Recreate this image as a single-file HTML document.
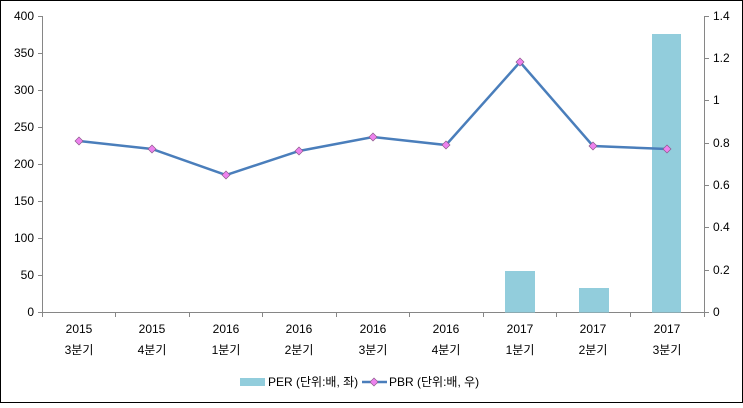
<!DOCTYPE html>
<html><head><meta charset="utf-8"><style>
html,body{margin:0;padding:0;background:#fff}
svg text{font-family:"Liberation Sans","Noto Sans CJK KR",sans-serif;font-size:12px;fill:#000}
</style></head><body>
<svg width="743" height="403" xmlns="http://www.w3.org/2000/svg">
<rect x="0.5" y="0.5" width="742" height="402" fill="#fff" stroke="#000"/>
<g stroke="#868686" stroke-width="1" fill="none">
<path d="M42.5 16V312.5H704.5M704.5 16V312.5"/>
<path d="M38 16.5h5M38 53.5h5M38 90.5h5M38 127.5h5M38 164.5h5M38 201.5h5M38 238.5h5M38 275.5h5M38 312.5h5"/>
<path d="M704 16.5h5M704 58.5h5M704 100.5h5M704 143.5h5M704 185.5h5M704 227.5h5M704 270.5h5M704 312.5h5"/>
<path d="M42.5 312v5M115.5 312v5M189.5 312v5M262.5 312v5M336.5 312v5M409.5 312v5M483.5 312v5M556.5 312v5M630.5 312v5M704.5 312v5"/>
</g>
<g text-anchor="end">
<text x="34" y="20">400</text><text x="34" y="57">350</text><text x="34" y="94">300</text><text x="34" y="131">250</text><text x="34" y="168">200</text><text x="34" y="205">150</text><text x="34" y="242">100</text><text x="34" y="279">50</text><text x="34" y="316">0</text>
</g>
<g>
<text x="713" y="20">1.4</text><text x="713" y="62">1.2</text><text x="713" y="104">1</text><text x="713" y="147">0.8</text><text x="713" y="189">0.6</text><text x="713" y="231">0.4</text><text x="713" y="274">0.2</text><text x="713" y="316">0</text>
</g>
<g fill="#92cddc">
<rect x="505" y="271" width="30" height="41.5"/>
<rect x="579" y="288" width="30" height="24.5"/>
<rect x="652" y="34" width="29" height="278.5"/>
</g>
<polyline fill="none" stroke="#4a7ebb" stroke-width="2.5" points="79,141 152,149 226,175 299,151 373,137 446,145 520,62 593,146 667,149"/>
<g fill="#ee82ee" stroke="#8b5a8b" stroke-width="0.7">
<path d="M79 137l4 4-4 4-4-4z"/><path d="M152 145l4 4-4 4-4-4z"/><path d="M226 171l4 4-4 4-4-4z"/><path d="M299 147l4 4-4 4-4-4z"/><path d="M373 133l4 4-4 4-4-4z"/><path d="M446 141l4 4-4 4-4-4z"/><path d="M520 58l4 4-4 4-4-4z"/><path d="M593 142l4 4-4 4-4-4z"/><path d="M667 145l4 4-4 4-4-4z"/>
</g>
<g text-anchor="middle">
<text x="79" y="333">2015</text><text x="79" y="354">3분기</text>
<text x="152" y="333">2015</text><text x="152" y="354">4분기</text>
<text x="226" y="333">2016</text><text x="226" y="354">1분기</text>
<text x="299" y="333">2016</text><text x="299" y="354">2분기</text>
<text x="373" y="333">2016</text><text x="373" y="354">3분기</text>
<text x="446" y="333">2016</text><text x="446" y="354">4분기</text>
<text x="520" y="333">2017</text><text x="520" y="354">1분기</text>
<text x="593" y="333">2017</text><text x="593" y="354">2분기</text>
<text x="667" y="333">2017</text><text x="667" y="354">3분기</text>
</g>
<rect x="240" y="378" width="25" height="8" fill="#92cddc"/>
<text x="268" y="386">PER (단위:배, 좌)</text>
<line x1="362" y1="382" x2="387" y2="382" stroke="#4a7ebb" stroke-width="2.5"/>
<path d="M374 378l4 4-4 4-4-4z" fill="#ee82ee" stroke="#8b5a8b" stroke-width="0.7"/>
<text x="389" y="386">PBR (단위:배, 우)</text>
</svg>
</body></html>
